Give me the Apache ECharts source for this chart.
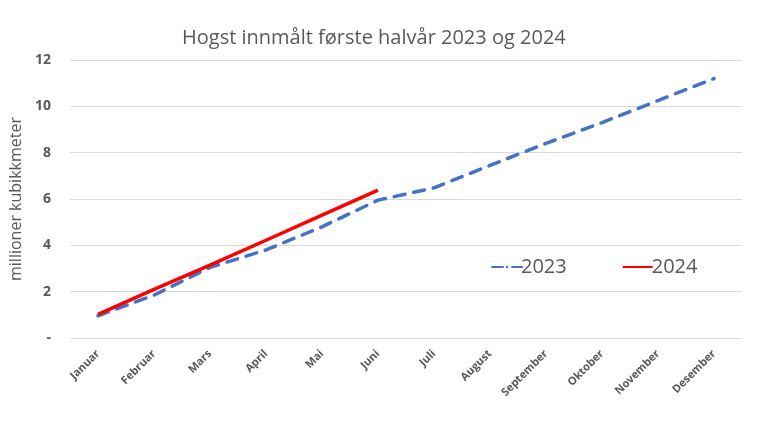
<!DOCTYPE html>
<html>
<head>
<meta charset="utf-8">
<script src="https://cdn.jsdelivr.net/npm/echarts@6/dist/echarts.min.js"></script>
<style>
html,body{margin:0;padding:0;background:#fff;}
#main{width:768px;height:440px;}
</style>
</head>
<body>
<div id="main"></div>
<script>
//måneder
var months = ['Januar','Februar','Mars','April','Mai','Juni','Juli','August','September','Oktober','November','Desember'];
//2023 hele året
var data2023 = [0.96, 1.85, 3.05, 3.8, 4.8, 5.95, 6.48, 7.45, 8.4, 9.3, 10.25, 11.2];
//2024 første halvår
var data2024 = [1.02, 2.1, 3.15, 4.22, 5.3, 6.38];
var yTicks = [0, 2, 4, 6, 8, 10, 12];

var chart = echarts.init(document.getElementById('main'));
var option = {
	backgroundColor: '#fff',
	animation: false,
	title: {
		text: 'Hogst innmålt første halvår 2023 og 2024',
		left: 177,
		top: 23,
		textStyle: {
			fontFamily: 'Open Sans',
			fontSize: 20,
			fontWeight: 'normal',
			color: '#595959'
		}
	},
	legend: {
		left: 486,
		top: 252,
		itemWidth: 30,
		itemHeight: 3,
		itemGap: 55,
		textStyle: {
			fontFamily: 'Open Sans',
			fontSize: 20,
			color: '#595959',
			padding: [0, 0, 0, -6]
		},
		data: ['2023', '2024']
	},
	grid: {
		left: 66,
		right: 26,
		top: 60,
		bottom: 102
	},
	xAxis: {
		type: 'category',
		data: months,
		boundaryGap: true,
		axisLine: {show: false},
		axisTick: {show: false},
		axisLabel: {
			interval: 0,
			rotate: 45,
			margin: 14,
			fontFamily: 'Open Sans',
			fontSize: 11,
			fontWeight: 'bold',
			color: '#595959'
		}
	},
	yAxis: {
		type: 'value',
		min: yTicks[0],
		max: yTicks[yTicks.length - 1],
		interval: 2,
		name: 'millioner kubikkmeter',
		nameLocation: 'middle',
		nameGap: 46,
		nameMoveOverlap: false,
		nameTextStyle: {
			fontFamily: 'Open Sans',
			fontSize: 16,
			color: '#595959'
		},
		axisLabel: {
			margin: 19,
			fontFamily: 'Open Sans',
			fontSize: 14,
			fontWeight: 'bold',
			color: '#595959',
			formatter: function (v) {
				return v === 0 ? '-' : v;
			}
		},
		splitLine: {
			lineStyle: {color: '#d9d9d9', width: 1}
		}
	},
	series: [{
		name: '2023',
		type: 'line',
		data: data2023,
		symbol: 'none',
		z: 2,
		lineStyle: {
			color: '#4472c4',
			width: 3.5,
			type: [11, 9],
			cap: 'round'
		},
		itemStyle: {color: '#4472c4'}
	}, {
		name: '2024',
		type: 'line',
		data: data2024,
		symbol: 'none',
		z: 3,
		lineStyle: {
			color: '#ff0000',
			width: 3.5
		},
		itemStyle: {color: '#ff0000'}
	}]
};
chart.setOption(option);
</script>
</body>
</html>
